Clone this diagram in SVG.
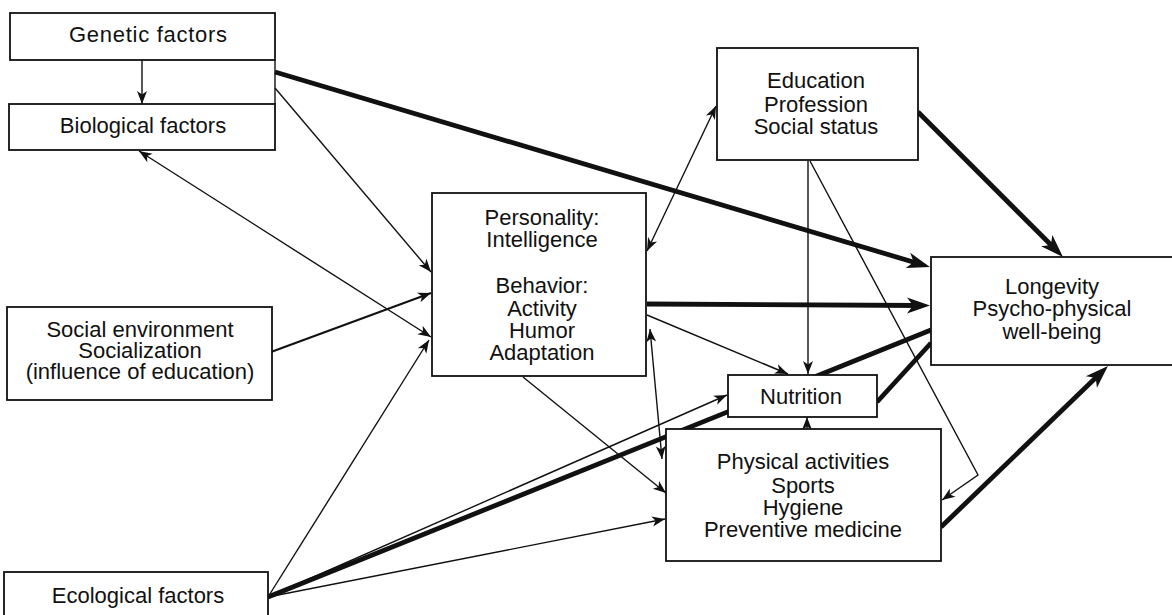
<svg xmlns="http://www.w3.org/2000/svg" width="1172" height="615" viewBox="0 0 1172 615">
  <defs>
    <style>
      .box { fill: #fff; stroke: #111; stroke-width: 1.8; }
      .lbl { font-family: "Liberation Sans", Arial, Helvetica, sans-serif; font-size: 22px; fill: #111; text-anchor: middle; }
      .thin { fill: none; stroke: #111; stroke-width: 1.4; }
      .mid { fill: none; stroke: #111; stroke-width: 2; }
      .thick { fill: none; stroke: #111; stroke-width: 4.8; }
    </style>
    <!-- small barbed head: tip sits on the path end -->
    <marker id="ah" viewBox="-14 -6 15 12" refX="0" refY="0" markerWidth="15" markerHeight="12" markerUnits="userSpaceOnUse" orient="auto">
      <path d="M0,0 L-13,-5 L-9.5,0 L-13,5 Z" fill="#111"/>
    </marker>
    <marker id="ahs" viewBox="-14 -6 15 12" refX="0" refY="0" markerWidth="15" markerHeight="12" markerUnits="userSpaceOnUse" orient="auto-start-reverse">
      <path d="M0,0 L-13,-5 L-9.5,0 L-13,5 Z" fill="#111"/>
    </marker>
    <!-- large barbed head: tip lies 8 units past the path end -->
    <marker id="ahb" viewBox="-16 -9 25 18" refX="0" refY="0" markerWidth="25" markerHeight="18" markerUnits="userSpaceOnUse" orient="auto">
      <path d="M8,0 L-15,-8 L-9,0 L-15,8 Z" fill="#111"/>
    </marker>
  </defs>

  <rect width="1172" height="615" fill="#fff"/>

  <g id="connectors">
    <!-- thick paths -->
    <line class="thick" x1="275" y1="72" x2="922.3" y2="264.7" marker-end="url(#ahb)"/>
    <line class="thick" x1="647" y1="304" x2="922" y2="305.5" marker-end="url(#ahb)"/>
    <line class="thick" x1="918" y1="112" x2="1057.3" y2="251.3" marker-end="url(#ahb)"/>
    <line class="thick" x1="941" y1="527" x2="1102.2" y2="371.6" marker-end="url(#ahb)"/>
    <line class="thick" x1="268" y1="597" x2="931" y2="330"/>
    <line class="thick" x1="877" y1="402" x2="931" y2="343"/>

    <!-- thin paths -->
    <line class="thin" x1="275" y1="60" x2="275" y2="104"/>
    <line class="thin" x1="142" y1="60" x2="142" y2="104" marker-end="url(#ah)"/>
    <line class="thin" x1="275" y1="88" x2="431" y2="272" marker-end="url(#ah)"/>
    <line class="mid" x1="271" y1="352" x2="431" y2="293" marker-end="url(#ah)"/>
    <line class="thin" x1="139" y1="151" x2="431" y2="337" marker-start="url(#ahs)" marker-end="url(#ah)"/>
    <line class="thin" x1="268" y1="597" x2="429" y2="340" marker-end="url(#ah)"/>
    <line class="thin" x1="268" y1="597" x2="727" y2="395" marker-end="url(#ah)"/>
    <line class="thin" x1="268" y1="597" x2="665" y2="519" marker-end="url(#ah)"/>
    <line class="thin" x1="523" y1="377" x2="666" y2="493" marker-end="url(#ah)"/>
    <line class="thin" x1="650" y1="329" x2="662" y2="459" marker-start="url(#ahs)" marker-end="url(#ah)"/>
    <line class="thin" x1="647" y1="251" x2="716" y2="106" marker-start="url(#ahs)" marker-end="url(#ah)"/>
    <line class="thin" x1="647" y1="315" x2="788" y2="374" marker-end="url(#ah)"/>
    <line class="thin" x1="808" y1="161" x2="808" y2="374" marker-end="url(#ah)"/>
    <polyline class="thin" points="810,161 978,475 942,500" marker-end="url(#ah)"/>
    <line class="thin" x1="807" y1="429" x2="807" y2="417" marker-end="url(#ah)"/>
  </g>

  <g id="genetic">
    <rect class="box" x="10" y="13" width="265" height="47"/>
    <text class="lbl" x="148" y="42" textLength="158">Genetic factors</text>
  </g>

  <g id="biological">
    <rect class="box" x="9" y="104" width="266" height="46"/>
    <text class="lbl" x="143" y="133">Biological factors</text>
  </g>

  <g id="social">
    <rect class="box" x="7" y="307" width="265" height="93"/>
    <text class="lbl" x="140" y="337">Social environment</text>
    <text class="lbl" x="140" y="358">Socialization</text>
    <text class="lbl" x="140" y="379">(influence of education)</text>
  </g>

  <g id="ecological">
    <rect class="box" x="4" y="572" width="264" height="60"/>
    <text class="lbl" x="138" y="603">Ecological factors</text>
  </g>

  <g id="personality">
    <rect class="box" x="432" y="193" width="214" height="183"/>
    <text class="lbl" x="542" y="225">Personality:</text>
    <text class="lbl" x="542" y="247">Intelligence</text>
    <text class="lbl" x="542" y="293">Behavior:</text>
    <text class="lbl" x="542" y="316">Activity</text>
    <text class="lbl" x="542" y="338">Humor</text>
    <text class="lbl" x="542" y="360">Adaptation</text>
  </g>

  <g id="education">
    <rect class="box" x="717" y="48" width="201" height="112"/>
    <text class="lbl" x="816" y="88">Education</text>
    <text class="lbl" x="816" y="112">Profession</text>
    <text class="lbl" x="816" y="134">Social status</text>
  </g>

  <g id="longevity">
    <rect class="box" x="931" y="257" width="245" height="108"/>
    <text class="lbl" x="1052" y="294">Longevity</text>
    <text class="lbl" x="1052" y="316">Psycho-physical</text>
    <text class="lbl" x="1052" y="339">well-being</text>
  </g>

  <g id="nutrition">
    <rect class="box" x="728" y="375" width="149" height="42"/>
    <text class="lbl" x="801" y="404">Nutrition</text>
  </g>

  <g id="physical">
    <rect class="box" x="666" y="429" width="275" height="132"/>
    <text class="lbl" x="803" y="469">Physical activities</text>
    <text class="lbl" x="803" y="493">Sports</text>
    <text class="lbl" x="803" y="515">Hygiene</text>
    <text class="lbl" x="803" y="537">Preventive medicine</text>
  </g>
</svg>
